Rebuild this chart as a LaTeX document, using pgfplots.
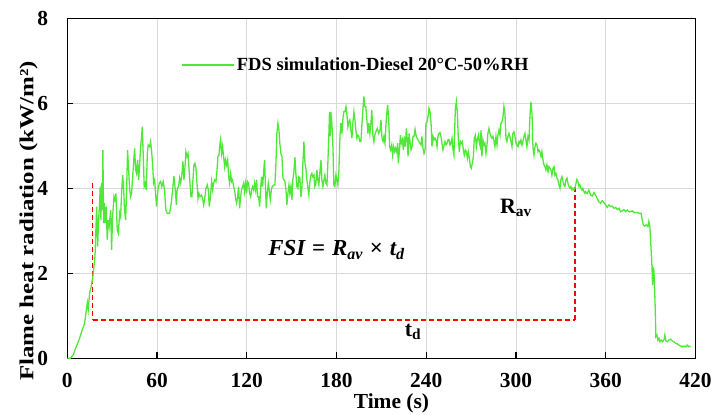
\documentclass[border=0pt]{standalone}
\usepackage{fontspec}
\setmainfont{Liberation Serif}
\usepackage{graphicx}
\usepackage{pgfplots}
\usepackage{pgfplotstable}
\pgfplotsset{compat=1.18}
\definecolor{fdsgreen}{RGB}{80,232,56}
\definecolor{gridgray}{RGB}{217,217,217}
\definecolor{dashred}{RGB}{255,0,0}
\pgfplotstableread{
t v
0 0
2 0
4 0.08
5.6 0.24
7.8 0.43
10 0.67
11.6 0.82
12.7 1.14
13.4 1.31
14 1.14
14.9 1.53
16 1.69
17.1 1.92
17.8 2.16
18.5 2.39
18.9 2.78
19.6 3.57
20.3 2.63
20.9 3.25
21.6 3.65
22 4.04
22.5 3.25
22.9 4.12
23.4 3.49
23.8 4.9
24.3 3.18
24.7 3.65
25.4 3.18
26 3.57
26.7 2.78
27.4 3.25
28 3.1
29 3.49
29.6 2.55
30.3 3.33
31.2 3.8
31.8 3.73
32.5 3.88
33.4 3.02
34.1 2.94
35 3.41
35.6 3.33
36.3 3.88
37 4.31
37.6 4.04
38.3 3.49
39 3.25
39.6 3.88
40.3 4.9
41 4.43
41.6 4.04
42.3 3.8
43 3.88
43.7 4.27
44.3 4.59
45 4.94
45.7 4.43
46.3 4.35
47 4.67
47.7 4.2
48.3 4.51
49 4.98
49.7 5.22
50.1 5.45
50.8 4.75
51.4 4.04
52.1 4.12
52.8 3.96
53.5 4.82
54.1 5.02
55 4.98
55.7 5.1
56.3 4.9
57 4.59
57.7 4.12
58.4 4.2
59 3.88
59.7 3.57
60.6 3.96
61.5 4.12
62.4 4.16
63.2 4.04
64.1 4.16
65 3.96
65.9 3.49
66.8 3.41
68.4 3.41
69.5 3.65
70.4 3.96
71.3 4.29
72.2 3.96
72.9 3.61
73.5 4.0
74.4 4.04
75.1 4.24
75.8 4.12
76.7 4.35
77.3 4.63
78 4.2
78.7 4.51
79.3 4.86
80 4.75
80.7 4.82
81.3 4.51
82 4.12
82.7 3.8
83.3 3.8
84 4.2
84.7 4.55
85.3 4.59
86 4.47
86.7 4.12
87.4 3.76
88 3.88
88.7 3.8
89.6 3.84
90.5 3.76
91.1 3.61
91.8 3.73
92.7 4.0
93.6 4.08
94.3 3.96
94.9 3.57
95.6 3.76
96.5 4.16
97.2 3.96
97.8 4.12
98.5 4.2
99.4 4.16
100.1 4.43
100.7 4.75
101.4 4.78
102.1 5.06
102.5 5.15
103.2 4.82
103.8 4.98
104.5 4.75
105.2 4.51
105.8 4.67
106.5 4.55
107.2 4.67
107.9 4.27
108.5 4.12
109.2 4.35
109.9 4.16
110.5 4.2
111.2 4.04
111.9 3.96
112.5 3.76
113.2 3.65
113.9 3.8
114.5 4.04
115.2 3.53
115.9 3.8
116.5 3.96
117.2 4.04
117.9 4.12
118.5 3.92
119.2 4.12
119.9 3.88
120.5 4.16
121.2 4.12
121.9 3.88
122.6 3.8
123.2 3.96
123.9 4.04
124.6 3.96
125.2 4.12
125.9 3.96
126.6 4.2
127.2 3.8
127.9 3.8
128.6 3.57
129.2 3.96
129.9 4.27
130.6 4.04
131.2 4.35
131.9 4.67
132.4 4.12
133 3.53
133.7 3.88
134.4 4.12
135 3.96
135.7 3.73
136.4 3.96
137 4.04
138.2 4.08
138.8 4.08
139.5 4.59
140.1 5.29
140.8 5.53
141.5 5.37
142.1 5.06
142.8 4.82
143.5 4.75
144.2 4.24
144.8 4.2
145.5 4.16
146.2 3.96
146.8 3.61
147.5 3.88
148.2 4.08
148.8 3.88
149.5 4.04
150.2 3.73
150.8 4.2
151.5 4.39
152.2 4.73
152.8 4.35
153.5 4.04
154.2 4.0
154.8 4.27
155.5 4.24
156.2 3.8
156.9 4.04
157.5 4.59
158.2 5.1
158.9 4.59
159.5 4.47
160.2 4.2
160.9 4.0
161.5 3.84
162.2 4.16
162.9 4.31
163.5 4.35
164.2 4.27
164.9 4.31
165.5 4.04
166.2 4.12
166.9 4.43
167.5 4.2
168.2 4.08
168.9 4.39
169.6 4.67
170.2 4.2
170.9 4.04
171.6 4.2
172.2 4.31
172.9 4.12
173.6 4.08
174.2 4.59
174.9 5.29
175.3 5.8
175.8 5.22
176.2 5.8
176.9 5.53
177.6 4.98
178.2 4.08
178.9 4.04
179.6 4.31
180.2 4.2
180.9 4.08
181.6 4.43
182.3 5.22
182.9 5.53
183.6 5.29
184.3 5.65
184.9 5.8
185.6 5.8
186.3 5.92
186.9 5.76
187.6 5.45
188.3 5.57
188.9 5.61
189.6 5.37
190.3 5.18
190.9 5.53
191.6 5.8
192.3 5.61
192.9 5.37
193.6 5.18
194.3 5.25
194.9 5.22
195.6 5.1
196.3 5.1
196.9 5.45
197.6 5.84
198.3 6.16
199 5.92
199.6 5.92
200.3 5.61
201 5.29
201.6 5.53
202.3 5.29
203 5.53
203.6 5.84
204.3 5.25
205 5.1
205.6 5.25
206.3 5.33
207.3 5.41
208.2 5.29
209.1 5.37
209.7 5.61
210.4 5.18
211.1 5.1
211.7 5.22
212.4 5.06
213.1 5.53
213.8 5.84
214.2 5.96
214.9 5.61
215.5 4.98
216.2 4.9
216.9 5.02
217.5 4.78
218.2 4.98
218.9 4.86
219.5 4.94
220.2 4.86
220.9 5.06
221.3 4.59
222 4.86
222.7 5.25
223.3 5.06
224 5.14
224.7 4.9
225.3 5.22
226 4.98
226.7 5.41
227.3 5.14
227.8 4.75
228.5 5.29
229.1 5.1
229.8 4.9
230.5 4.98
231.1 5.22
231.8 5.22
232.5 5.39
233.1 5.25
233.8 5.18
234.5 5.14
235.1 5.1
235.8 5.06
236.5 5.02
237.1 5.22
237.8 4.94
238.5 4.82
239.2 4.9
239.8 5.53
240.5 5.57
241.2 5.69
241.8 5.88
242.5 5.8
243.2 5.53
243.8 4.98
244.5 5.22
245.2 5.14
245.8 5.18
246.5 5.14
247.2 4.98
247.8 5.22
248.5 5.29
249.2 5.31
249.8 5.22
250.5 5.06
251.2 4.9
251.9 5.02
252.5 5.1
253.2 5.02
253.9 5.06
254.5 5.14
255.2 5.15
255.9 5.02
256.5 5.06
257.2 5.18
257.9 4.9
258.5 4.78
259 5.37
259.4 5.84
260.1 6.04
260.8 5.76
261.4 5.18
262.1 4.86
262.8 5.1
263.4 5.06
264.1 5.1
264.8 4.9
265.4 4.78
266.1 4.9
266.8 4.86
267.5 4.71
268.1 4.86
268.8 4.71
269.5 4.51
270.1 4.47
270.8 4.59
271.5 4.75
272.1 5.18
272.8 5.25
273.5 4.98
274.1 5.14
274.8 5.25
275.5 5.06
276.1 4.98
276.6 5.37
277.2 4.75
277.9 5.14
278.6 5.02
279.2 5.06
279.9 4.82
280.6 5.02
281.2 5.29
281.9 5.41
282.6 5.29
283.2 5.22
283.9 5.18
284.6 5.22
285.3 5.1
285.9 4.98
286.6 5.22
287.3 5.02
287.9 5.25
288.6 5.37
289.3 5.25
289.9 5.53
290.6 5.57
291.3 5.69
291.9 5.92
292.6 5.76
293.3 5.18
293.9 5.1
294.6 5.22
295.3 5.29
295.9 5.22
296.6 5.1
297.3 4.98
297.9 5.29
298.6 5.33
299.3 5.22
300 5.06
300.6 5.02
301.3 4.98
302 5.1
302.6 5.06
303.3 5.14
304 5.02
304.6 5.1
305.3 5.22
306 5.29
306.6 5.14
307.3 4.98
308 5.22
308.7 5.14
309.3 5.69
310 6.04
310.7 5.76
311.1 5.14
311.5 4.9
312 4.78
312.7 4.98
313.3 5.06
314 5.02
314.7 4.86
315.3 4.9
316 4.86
316.7 4.75
317.3 4.86
318 4.67
318.7 4.55
319.3 4.51
320 4.43
320.7 4.55
321.4 4.39
322 4.51
322.7 4.47
323.4 4.43
324 4.31
324.7 4.47
325.4 4.51
326 4.31
326.7 4.35
327.4 4.24
328 4.2
328.7 4.08
329.4 4.0
330 4.2
330.7 4.27
331.4 4.16
332 4.08
332.7 4.04
333.4 4.2
334.1 4.24
334.7 4.12
335.4 4.04
336.1 4.0
336.7 4.04
337.4 3.96
338.1 4.0
338.7 3.96
339.4 4.0
340.1 4.12
340.7 4.21
341.4 4.16
342.1 4.04
342.7 4.08
343.4 4.0
344.1 3.96
344.7 4.0
345.4 3.92
346.1 3.88
346.5 3.92
347.6 3.88
348.7 3.96
349.9 3.84
351 3.82
352.1 3.9
353.2 3.84
354.3 3.76
355.4 3.68
356.5 3.65
357.7 3.71
358.8 3.66
359.9 3.61
361 3.55
362.1 3.61
363.2 3.57
364.3 3.58
365.5 3.53
366.6 3.55
367.7 3.5
368.8 3.53
369.9 3.45
371 3.47
372.1 3.5
373.3 3.45
374.4 3.49
375.5 3.45
376.6 3.45
377.7 3.47
378.8 3.43
379.9 3.43
381 3.43
382.2 3.41
383.7 3.41
384.4 3.25
385.1 3.14
386 3.11
387.1 3.14
388.2 3.1
388.8 3.22
389.5 3.1
390.2 2.63
390.9 2.16
391.3 1.72
391.7 2.12
392.2 2.08
392.6 1.72
393.1 1.14
393.5 0.51
394.2 0.55
394.9 0.43
395.5 0.47
396.2 0.39
397.1 0.43
398 0.39
398.9 0.43
399.5 0.55
400.2 0.41
401.1 0.39
402.2 0.43
403.3 0.45
404.4 0.41
405.6 0.39
406.7 0.35
407.8 0.34
408.9 0.31
410 0.29
411.1 0.27
412.2 0.29
413.3 0.27
414.5 0.31
415.6 0.27
416.7 0.29
}\fdsdata
\begin{document}
\begin{tikzpicture}
\useasboundingbox (-67.3bp,-56.7bp) rectangle (643.7bp,358.3bp);
\begin{axis}[
  scale only axis, width=628.2bp, height=340bp,
  xmin=0, xmax=420, ymin=0, ymax=8,
  xtick={0,60,...,420}, ytick={0,2,...,8},
  grid=major, major grid style={gridgray, line width=1bp},
  axis line style={black, line width=1.4bp},
  tick pos=left, tick align=inside, major tick length=6bp,
  every tick/.style={black, line width=1.2bp},
  /pgf/number format/assume math mode=true,
  ticklabel style={font=\fontsize{21.5}{24}\selectfont\bfseries, inner sep=0pt},
  xticklabel style={yshift=-15bp},
  yticklabel style={xshift=-19bp},
  xlabel={Time (s)},
  ylabel={\scalebox{1}[0.8]{Flame heat radiation (kW/m²)}},
  every axis x label/.style={at={(axis description cs:0.516,-0.149)}, anchor=base, font=\fontsize{21.5}{24}\selectfont\bfseries},
  every axis y label/.style={at={(axis description cs:-0.0618,0.404)}, anchor=center, rotate=90, font=\fontsize{25}{27}\selectfont\bfseries},
  legend style={at={(axis description cs:0.182,0.8626)}, anchor=west, draw=none, fill=none, inner sep=0pt, outer sep=0pt, font=\fontsize{18.6}{20}\selectfont\bfseries},
  legend image code/.code={\draw[#1] (0bp,0bp) -- (52bp,0bp);},
]
\addplot[dashred, line width=1.8bp, dash pattern=on 5bp off 3bp, forget plot] coordinates {(16.9,4.12) (16.9,0.91)};
\addplot[dashred, line width=1.8bp, dash pattern=on 5bp off 3bp, forget plot] coordinates {(16.9,0.91) (339.5,0.91)};
\addplot[dashred, line width=1.8bp, dash pattern=on 5bp off 3bp, forget plot] coordinates {(339.5,0.91) (339.5,4.09)};
\addplot[fdsgreen, line width=1.3bp] table[x=t, y=v] {\fdsdata};
\addlegendentry{FDS simulation-Diesel 20°C-50\%RH}
\node[anchor=base, inner sep=0pt, font=\fontsize{23}{25}\selectfont\bfseries\itshape] at (axis cs:180,2.41) {FSI\hspace{0.3em}\upshape=\hspace{0.3em}\itshape R\textsubscript{av}\hspace{0.3em}\upshape×\hspace{0.3em}\itshape t\textsubscript{d}};
\node[anchor=base west, inner sep=0pt, font=\fontsize{22}{24}\selectfont\bfseries] at (axis cs:289.2,3.40) {R\textsubscript{av}};
\node[anchor=base west, inner sep=0pt, font=\fontsize{22}{24}\selectfont\bfseries] at (axis cs:225.6,0.52) {t\textsubscript{d}};
\end{axis}
\end{tikzpicture}
\end{document}
